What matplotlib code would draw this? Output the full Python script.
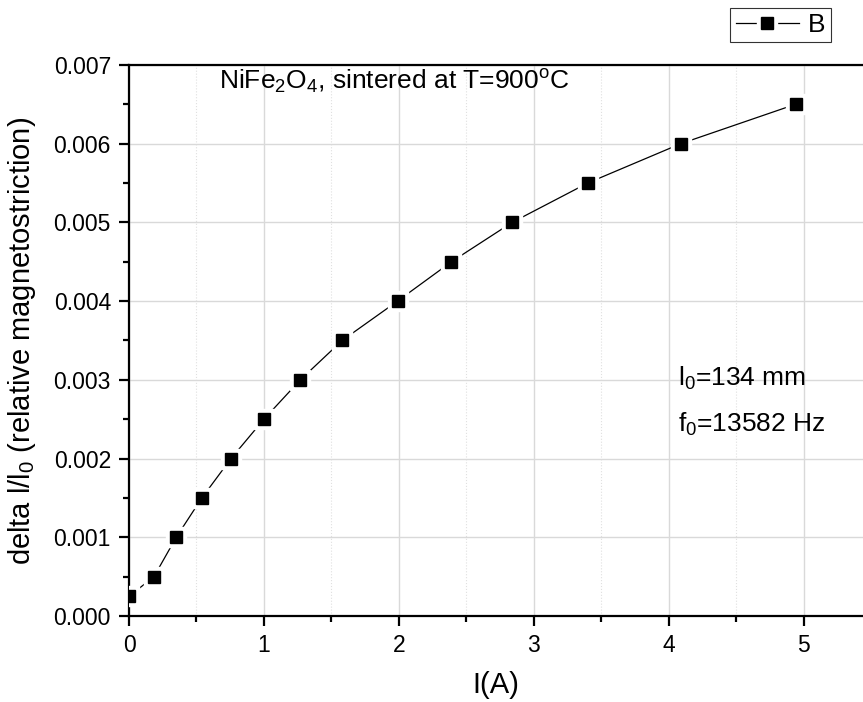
import matplotlib as mpl
import matplotlib.pyplot as plt
from matplotlib.lines import Line2D
from matplotlib.legend_handler import HandlerTuple
from matplotlib.ticker import MultipleLocator, FormatStrFormatter

mpl.rcParams['font.family'] = 'Liberation Sans'
mpl.rcParams['mathtext.fontset'] = 'custom'
mpl.rcParams['mathtext.rm'] = 'Liberation Sans'
mpl.rcParams['mathtext.it'] = 'Liberation Sans'

# current (A) vs relative magnetostriction
current = [0.0, 0.185, 0.35, 0.54, 0.756, 1.0, 1.27, 1.58, 1.99, 2.39, 2.84, 3.40, 4.09, 4.94]
strain = [0.00025, 0.0005, 0.001, 0.0015, 0.002, 0.0025, 0.003, 0.0035,
          0.004, 0.0045, 0.005, 0.0055, 0.006, 0.0065]

fig = plt.figure(figsize=(8.63, 7.02), dpi=100)
ax = fig.add_axes([0.1495, 0.1225, 0.8505, 0.785])

ax.plot(current, strain, color='black', linewidth=0.9, zorder=3)
# white halo so the line stops short of each marker, like Origin does
ax.plot(current, strain, linestyle='none', marker='s', markersize=14,
        color='white', zorder=4)
ax.plot(current, strain, linestyle='none', marker='s', markersize=8.3,
        color='black', zorder=5)

ax.set_xlim(0, 5.44)
ax.set_ylim(0, 0.007)
ax.xaxis.set_major_locator(MultipleLocator(1))
ax.xaxis.set_minor_locator(MultipleLocator(0.5))
ax.yaxis.set_major_locator(MultipleLocator(0.001))
ax.yaxis.set_minor_locator(MultipleLocator(0.0005))
ax.yaxis.set_major_formatter(FormatStrFormatter('%.3f'))

ax.grid(which='major', color='#d9d9d9', linewidth=1.0, zorder=0)
ax.grid(which='minor', axis='x', color='#e0e0e0', linewidth=0.8,
        linestyle=':', zorder=0)
ax.set_axisbelow(True)

ax.spines['right'].set_visible(False)
for s in ['left', 'bottom', 'top']:
    ax.spines[s].set_linewidth(1.6)
ax.tick_params(which='major', direction='out', length=7, width=1.6,
               labelsize=16.5, pad=6, top=False, right=False)
ax.tick_params(which='minor', direction='out', length=4, width=1.6,
               top=False, right=False)

ax.set_xlabel('I(A)', fontsize=21, labelpad=10)
ax.set_ylabel('delta l/l$_0$ (relative magnetostriction)', fontsize=21, labelpad=11)

ax.text(0.67, 0.00678, 'NiFe$_2$O$_4$, sintered at T=900$^\\mathrm{o}$C',
        fontsize=19, va='center', ha='left')
ax.text(4.07, 0.00302, 'l$_0$=134 mm', fontsize=19, va='center', ha='left')
ax.text(4.07, 0.00243, 'f$_0$=13582 Hz', fontsize=19, va='center', ha='left')

h_line = Line2D([0], [0], color='black', linewidth=0.9)
h_halo = Line2D([0], [0], linestyle='none', marker='s', markersize=14, color='white')
h_mark = Line2D([0], [0], linestyle='none', marker='s', markersize=8.3, color='black')
leg = fig.legend([(h_line, h_halo, h_mark)], ['B'], loc='upper right',
                 bbox_to_anchor=(0.963, 0.989), fontsize=19, frameon=True,
                 fancybox=False, edgecolor='black', handlelength=2.4,
                 borderpad=0.2, handletextpad=0.35, borderaxespad=0,
                 handler_map={tuple: HandlerTuple(ndivide=1)})
leg.get_frame().set_linewidth(0.8)

fig.savefig('out.png', dpi=100)
